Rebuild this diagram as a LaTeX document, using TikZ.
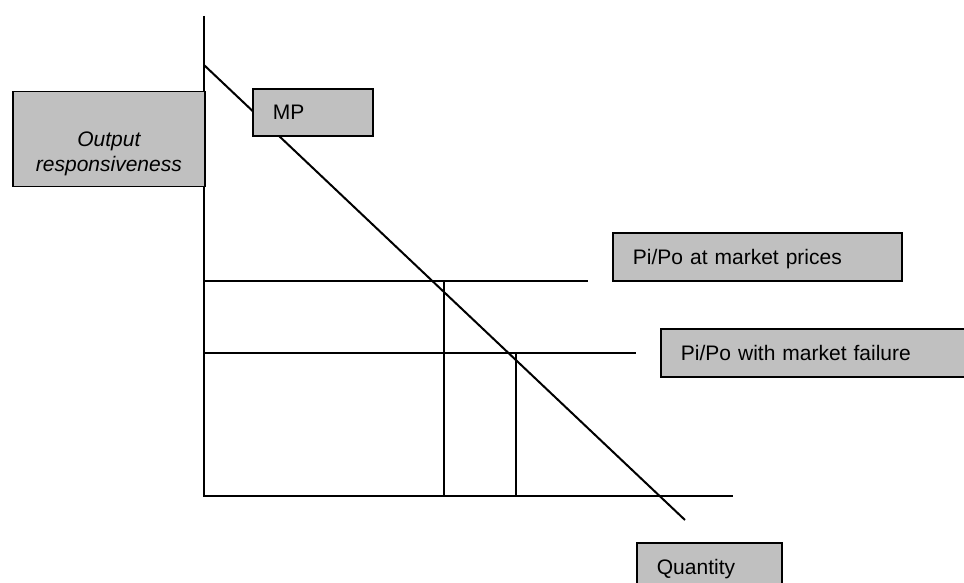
\documentclass[tikz,border=0pt]{standalone}
\usepackage{fontspec}
\setmainfont{Liberation Sans}
\definecolor{boxgray}{HTML}{C0C0C0}
\begin{document}
\begin{tikzpicture}[x=1pt,y=-1pt,
  axisline/.style={line width=2pt},
  labelbox/.style={draw, fill=boxgray, line width=1.8pt,
    font=\fontsize{21}{25}\selectfont, inner xsep=20pt, inner ysep=0pt,
    text height=15pt, text depth=0pt, align=left, anchor=west},
]
\useasboundingbox (0,0) rectangle (964,583);
\clip (0,0) rectangle (964,583);

% axes
\coordinate (ytop) at (204,16);
\coordinate (origin) at (204,496);
\coordinate (xend) at (733,496);
\draw[axisline] (ytop) -- (origin) -- (xend);

% marginal product curve
\coordinate (mpA) at (204,65);
\coordinate (mpB) at (685,520);
\draw[axisline] (mpA) -- (mpB);

% price ratio levels
\coordinate (p1L) at (204,281);
\coordinate (p1R) at (588,281);
\coordinate (p2L) at (204,353);
\coordinate (p2R) at (636,353);
\draw[axisline] (p1L) -- (p1R);
\draw[axisline] (p2L) -- (p2R);

% quantities at the intersections
\coordinate (q1T) at (444,281);
\coordinate (q1B) at (444,496);
\coordinate (q2T) at (516,353);
\coordinate (q2B) at (516,496);
\draw[axisline] (q1T) -- (q1B);
\draw[axisline] (q2T) -- (q2B);

% labels
\node[labelbox, align=center, font=\fontsize{21}{25}\selectfont\itshape,
  inner xsep=0pt, minimum width=192pt, minimum height=95pt, text width=192pt]
  (ylab) at (12,139) {Output\\responsiveness};
\node[labelbox, minimum height=47pt, text width=80pt] (mp) at (252,112.5) {MP};
\node[labelbox, minimum height=48pt, text width=249pt] (market) at (612,257) {Pi/Po at market prices};
\node[labelbox, minimum height=48pt, text width=280pt] (failure) at (660,353) {Pi/Po with market failure};
\node[labelbox, minimum height=48pt, text width=105pt] (qty) at (636,567) {Quantity};
\end{tikzpicture}
\end{document}
